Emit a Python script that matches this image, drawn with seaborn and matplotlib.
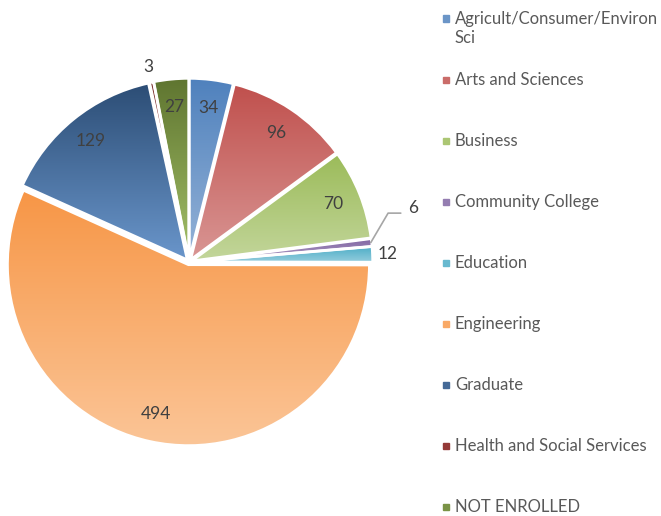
import numpy as np
import matplotlib
matplotlib.use("Agg")
import matplotlib.pyplot as plt
import seaborn as sns
from matplotlib.colors import to_rgb
from matplotlib.patches import Rectangle

# slice data, clockwise from 12 o'clock
categories = [
    "Agricult/Consumer/Environ\nSci",
    "Arts and Sciences",
    "Business",
    "Community College",
    "Education",
    "Engineering",
    "Graduate",
    "Health and Social Services",
    "NOT ENROLLED",
]
counts = [34, 96, 70, 6, 12, 494, 129, 3, 27]
# gradient ends: top of each slice -> bottom of each slice
top_colors = ["#4F81BD", "#C0504D", "#9BBB59", "#8064A2", "#4BACC6",
              "#F79646", "#2C4D75", "#772C2A", "#5F7530"]
bottom_colors = ["#95B3D7", "#D99694", "#C3D69B", "#B3A2C7", "#93CDDD",
                 "#FBC597", "#6A96CB", "#C0504D", "#A3C068"]

sns.set_theme(style="white")
plt.rcParams["font.family"] = ["Lato", "DejaVu Sans"]

W, H = 661, 516
fig = plt.figure(figsize=(W / 100, H / 100), dpi=100)
cx, cy, rpx = 189, 516 - 262, 181
half = rpx * 1.25
ax = fig.add_axes([(cx - half) / W, (cy - half) / H, 2 * half / W, 2 * half / H])

wedges, _ = ax.pie(counts, colors=top_colors, startangle=90, counterclock=False,
                   explode=[0.015] * len(counts), radius=1,
                   wedgeprops=dict(edgecolor="white", linewidth=2))
ax.axis("off")

# vertical gradient over each slice's own extent
ramp = np.linspace(0, 1, 256)[:, None]
for w, c0, c1 in zip(wedges, top_colors, bottom_colors):
    a, b = np.array(to_rgb(c0)), np.array(to_rgb(c1))
    img = np.ones((256, 1, 4))
    img[:, 0, :3] = a * (1 - ramp) + b * ramp
    bb = w.get_path().get_extents(w.get_patch_transform())
    im = ax.imshow(img, extent=[bb.x0, bb.x1, bb.y0, bb.y1], aspect="auto",
                   interpolation="bilinear", zorder=2)
    im.set_clip_path(w)
    w.set_facecolor("none")
    w.set_zorder(3)
ax.set_xlim(-1.25, 1.25)
ax.set_ylim(-1.25, 1.25)

label_color = "#404040"
for w, v in zip(wedges, counts):
    mid = np.deg2rad((w.theta1 + w.theta2) / 2)
    if v == 6:
        x0, y0 = 1.01 * np.cos(mid), 1.01 * np.sin(mid)
        ax.plot([x0, 1.10, 1.17], [y0, 0.27, 0.27], color="#A6A6A6", lw=1.2, zorder=4)
        ax.text(1.21, 0.30, str(v), ha="left", va="center",
                fontsize=12.5, color=label_color, zorder=5)
        continue
    d = 1.1 if v in (3, 12) else 0.86
    ax.text(d * np.cos(mid), d * np.sin(mid), str(v), ha="center", va="center",
            fontsize=12.5, color=label_color, zorder=5)

# legend on the right (marker shows the gradient's mid tone)
for i, (cat, c0, c1) in enumerate(zip(categories, top_colors, bottom_colors)):
    y = 1 - (18 + 61.0 * i) / H
    swatch = 0.6 * np.array(to_rgb(c0)) + 0.4 * np.array(to_rgb(c1))
    fig.patches.append(Rectangle((443 / W, y - 3.5 / H), 6 / W, 6 / H,
                                 transform=fig.transFigure, color=swatch))
    fig.text(455 / W, y + 7 / H, cat, ha="left", va="top", fontsize=12,
             color="#595959", linespacing=1.25)

fig.savefig("out.png", dpi=100)
